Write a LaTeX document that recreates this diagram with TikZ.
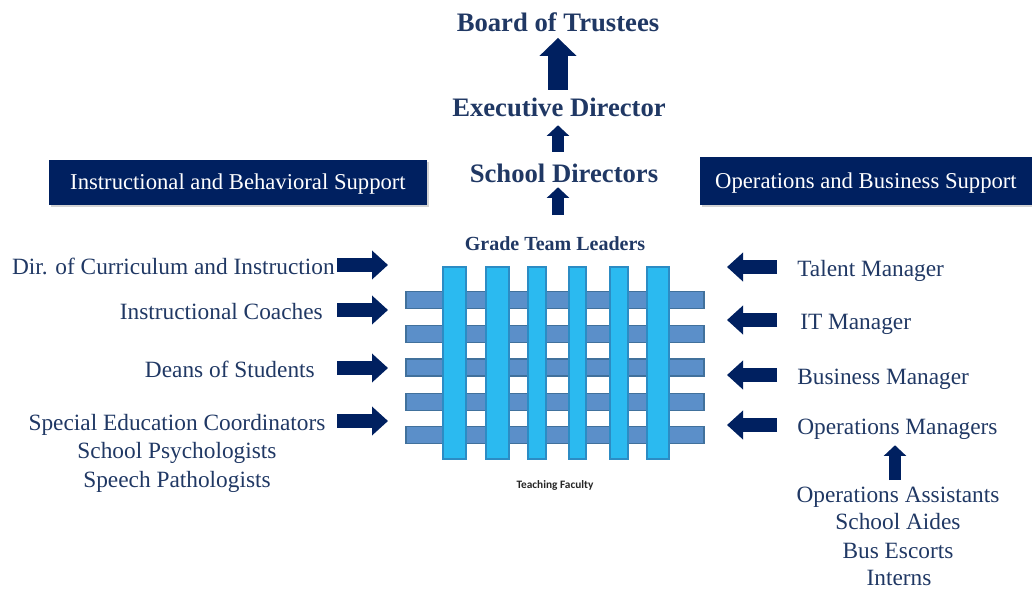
\documentclass[tikz,border=0pt]{standalone}
\usepackage{fontspec}
\setmainfont{Liberation Serif}
\newfontfamily\facfont{Carlito}
\usetikzlibrary{arrows.meta,shadows,positioning}
\definecolor{navy}{HTML}{002060}
\definecolor{ink}{HTML}{203864}
\definecolor{hbarc}{HTML}{5B8FC9}
\definecolor{hbard}{HTML}{41719C}
\definecolor{vbarc}{HTML}{2BBAF0}
\definecolor{vbard}{HTML}{2C8CC4}
\tikzset{t/.style={text=ink, inner sep=0, text height=12pt, text depth=1pt, font=\fontsize{17.5}{21}\selectfont},
  tb/.style={text=ink, inner sep=0, text height=13.5pt, text depth=0pt, font=\fontsize{20}{24}\selectfont\bfseries},
  hdr/.style={fill=navy, text=white, inner sep=0, text height=11.7pt, text depth=0.5pt, font=\fontsize{17}{20}\selectfont, drop shadow={shadow xshift=1.5pt, shadow yshift=-1.5pt, opacity=0.35}},
  harr/.style={navy, line width=10.5pt, -{Triangle[width=21pt,length=12pt]}},
  varr/.style={navy, line width=9pt, -{Triangle[width=16.5pt,length=8pt]}},
  bigarr/.style={navy, line width=15pt, -{Triangle[width=27pt,length=13.5pt]}},
  hbar/.style={fill=hbarc, draw=hbard, line width=0.8pt},
  vbar/.style={fill=vbarc, draw=vbard, line width=0.8pt}}

\begin{document}
\begin{tikzpicture}[x=0.75pt,y=-0.75pt]
    \useasboundingbox (0,0) rectangle (1032,590);

    % top of the chain
    \node[tb] (bot) at (558,22) {Board of Trustees};
    \node[tb] (ed) at (559,107) {Executive Director};
    \node[tb] (sd) at (564,173) {School Directors};
    \node[tb, text height=10pt, font=\fontsize{15}{18}\selectfont\bfseries] (gtl) at (555,244) {Grade Team Leaders};
    \draw[bigarr] ([yshift=6pt]ed.north -| bot.south) -- ([yshift=-5pt]bot.south);
    \draw[varr] ([yshift=9pt]sd.north -| bot.south) -- ([yshift=-6.75pt]ed.south -| bot.south);
    \draw[varr] ([yshift=16.5pt]gtl.north -| bot.south) -- ([yshift=-3.75pt]sd.south -| bot.south);

    \node[hdr, minimum width=283.5pt, minimum height=33.75pt] (ibs) at (238,182.5) {Instructional and Behavioral Support};
    \node[hdr, minimum width=249pt, minimum height=36pt] (obs) at (866,181) {Operations and Business Support};

    % teaching faculty weave
    \foreach \y in {300,334,367.5,402,435}
    {
      \draw[hbar] (406,\y-8.5) rectangle (704,\y+8.5);
    }
    \foreach \a/\b in {443/466,486/509,528/546,569/586,610/628,647/669}
    {
      \draw[vbar] (\a,267) rectangle (\b,459);
    }
    \node[font={\fontsize{8.5}{10}\selectfont\facfont\bfseries}, text=black!85] (tf) at (555,485) {Teaching Faculty};

    % left side
    \coordinate (lt) at (337,0);
    \coordinate (lh) at (388,0);
    \node[t, anchor=east] (dci) at (335,267) {Dir. of Curriculum and Instruction};
    \node[t, anchor=east] (ic) at (323,312) {Instructional Coaches};
    \node[t, anchor=east] (dos) at (315,370) {Deans of Students};
    \node[t] (sec) at (177,423) {Special Education Coordinators};
    \node[t] (psy) at (177,451) {School Psychologists};
    \node[t] (spp) at (177,480) {Speech Pathologists};
    \foreach \n in {dci,ic,dos,sec}
    {
      \draw[harr] ([yshift=1.5pt]\n.east -| lt) -- ([yshift=1.5pt]\n.east -| lh);
    }

    % right side
    \coordinate (rt) at (777,0);
    \coordinate (rh) at (727,0);
    \node[t, anchor=west] (tal) at (797,269) {Talent Manager};
    \node[t, anchor=west] (itm) at (800,322) {IT Manager};
    \node[t, anchor=west] (bm) at (797,377) {Business Manager};
    \node[t, anchor=west] (om) at (797,427) {Operations Managers};
    \foreach \n in {tal,itm,bm,om}
    {
      \draw[harr] ([yshift=1.5pt]\n.west -| rt) -- ([yshift=1.5pt]\n.west -| rh);
    }
    \node[t] (oa) at (898,495) {Operations Assistants};
    \node[t] (sa) at (898,522) {School Aides};
    \node[t] (be) at (898,551) {Bus Escorts};
    \node[t] (int) at (899,578) {Interns};
    \draw[varr] ([yshift=4.5pt]oa.north -| 895,0) -- ([yshift=-7pt]om.south -| 895,0);
\end{tikzpicture}
\end{document}
